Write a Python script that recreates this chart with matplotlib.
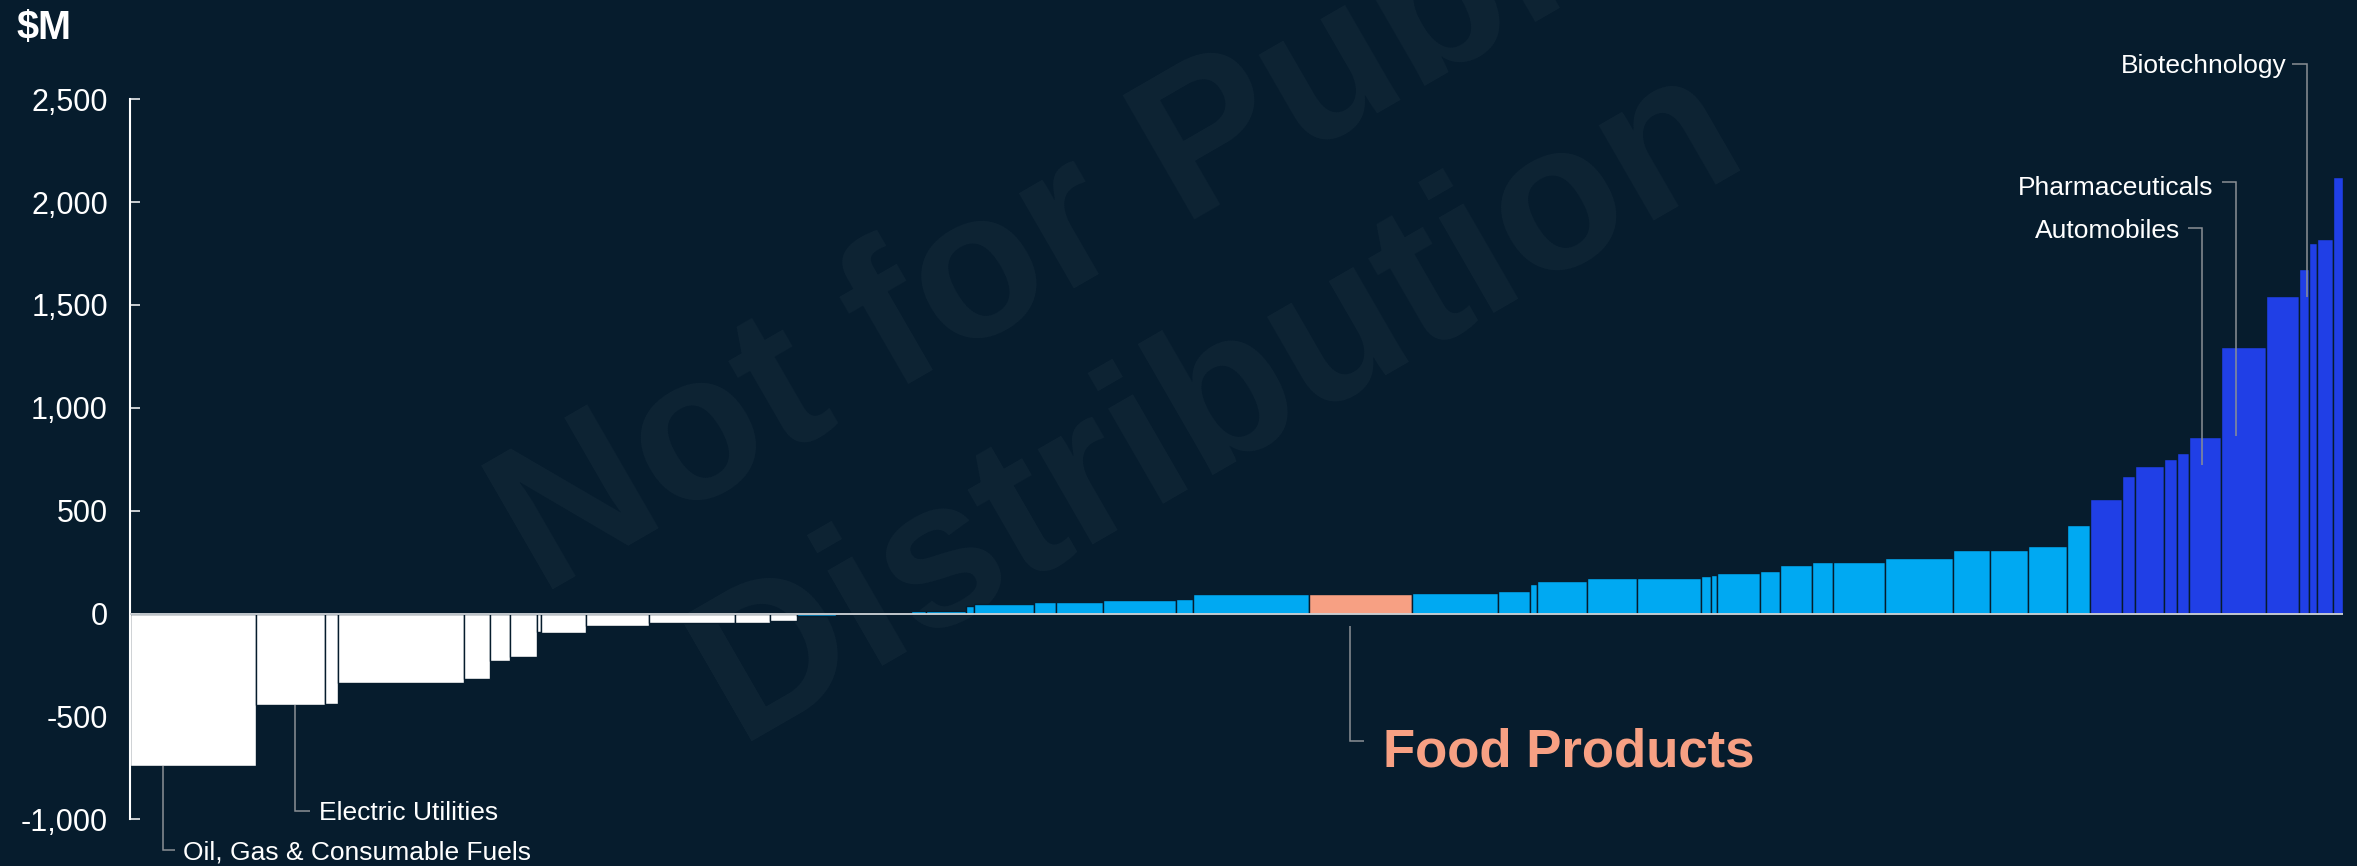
import matplotlib
matplotlib.use("Agg")
import matplotlib.pyplot as plt
import numpy as np

# Index weight of each sector (%) and its contribution ($M), sorted by contribution
weights = [5.68, 3.12, 0.62, 5.66, 1.19, 0.88, 1.25, 0.18, 2.01, 2.88,
           3.88, 1.58, 1.23, 1.76, 3.37, 0.66, 1.82, 0.36, 2.71, 1.01,
           2.13, 3.30, 0.75, 5.23, 4.65, 3.90, 1.46, 0.29, 2.29, 2.25,
           2.91, 0.45, 0.25, 1.96, 0.88, 1.46, 0.94, 2.35, 3.08, 1.69,
           1.68, 1.79, 1.04, 1.43, 0.57, 1.35, 0.56, 0.56, 1.42, 2.05,
           1.50, 0.45, 0.34, 0.74, 0.45]
contrib = [-741, -443, -438, -336, -316, -230, -210, -90, -95, -60,
           -47, -45, -34, -12, 3, 10, 10, 38, 48, 55,
           55, 65, 71, 94, 97, 100, 111, 143, 157, 173,
           175, 183, 189, 196, 207, 236, 251, 252, 272, 307,
           309, 330, 430, 558, 671, 715, 751, 782, 860, 1297,
           1544, 1676, 1800, 1819, 2123]

n_detractors = 13     # leading bars drawn in white
n_leaders = 12        # trailing bars drawn in dark blue
highlight = 24        # Food Products

sector_names = {
    0: "Oil, Gas & Consumable Fuels",
    1: "Electric Utilities",
    24: "Food Products",
    48: "Automobiles",
    49: "Pharmaceuticals",
    51: "Biotechnology",
}

y_ticks = [-1000, -500, 0, 500, 1000, 1500, 2000, 2500]

BG = "#061c2d"
WHITE = "#ffffff"
LIGHT = "#00a9f2"
DARK = "#203fe6"
SALMON = "#f7a083"
LEADER = "#8a8f95"
FONT = "Liberation Sans"

n = len(weights)
colors = []
for i in range(n):
    if i == highlight:
        colors.append(SALMON)
    elif i < n_detractors:
        colors.append(WHITE)
    elif i >= n - n_leaders:
        colors.append(DARK)
    else:
        colors.append(LIGHT)

lefts = np.concatenate([[0.0], np.cumsum(weights)[:-1]])

fig = plt.figure(figsize=(23.57, 8.66), dpi=100, facecolor=BG)
ax = fig.add_axes([130 / 2357, 0.05404, (2343 - 130) / 2357, 0.88533 - 0.05404])
ax.patch.set_visible(False)

# Watermark behind the chart
fig.text(0.4926, 0.648, "Not for Public\nDistribution", rotation=30,
         rotation_mode="anchor", ha="center", va="center", fontsize=150,
         fontweight="bold", family=FONT, color="white", alpha=0.035,
         linespacing=1.2, zorder=-5)

ax.bar(lefts, contrib, width=weights, align="edge", color=colors,
       edgecolor=BG, linewidth=1.0, zorder=2)
ax.axhline(0, color="#d0d4d8", lw=1.3, zorder=3)

ax.set_xlim(0, 100)
ax.set_ylim(-1000, 2500)
ax.set_yticks(y_ticks)
ax.set_yticklabels([f"{v:,}" for v in y_ticks], family=FONT, fontsize=22, color=WHITE)
ax.tick_params(axis="y", direction="in", length=7.5, width=1.1, color=WHITE, pad=16)
ax.set_xticks([])
for s in ("top", "right", "bottom"):
    ax.spines[s].set_visible(False)
ax.spines["left"].set_color(WHITE)
ax.spines["left"].set_linewidth(1.5)

fig.text(16.7 / 2357, 1 - 39 / 866, "$M", family=FONT, fontsize=28.5,
         fontweight="bold", color=WHITE, ha="left", va="baseline")


def leader(xs, ys):
    ax.plot(xs, ys, color=LEADER, lw=1.1, clip_on=False, zorder=4,
            solid_capstyle="butt", solid_joinstyle="miter")


def bar_x(i, frac):
    return lefts[i] + frac * weights[i]


# Bottom-left labels
x0 = bar_x(0, 0.26)
leader([x0, x0, 2.03], [contrib[0], -1150, -1150])
ax.text(2.40, -1196, sector_names[0], family=FONT, fontsize=19, color=WHITE,
        ha="left", va="baseline", clip_on=False)

x1 = bar_x(1, 0.57)
leader([x1, x1, 8.13], [contrib[1], -961, -961])
ax.text(8.54, -1005, sector_names[1], family=FONT, fontsize=19, color=WHITE,
        ha="left", va="baseline", clip_on=False)

# Highlighted sector
xf = bar_x(highlight, 0.40)
leader([xf, xf, 55.76], [-63, -621, -621])
ax.text(56.62, -743, sector_names[highlight], family=FONT, fontsize=38,
        fontweight="bold", color=SALMON, ha="left", va="baseline", clip_on=False)

# Top-right labels
xa = bar_x(48, 0.41)
leader([93.00, xa, xa], [1874, 1874, 723])
ax.text(92.64, 1825, sector_names[48], family=FONT, fontsize=19, color=WHITE,
        ha="right", va="baseline", clip_on=False)

xp = bar_x(49, 0.34)
leader([94.53, xp, xp], [2097, 2097, 864])
ax.text(94.13, 2034, sector_names[49], family=FONT, fontsize=19, color=WHITE,
        ha="right", va="baseline", clip_on=False)

xb = bar_x(51, 0.76)
leader([97.70, xb, xb], [2670, 2670, 1540])
ax.text(97.47, 2630, sector_names[51], family=FONT, fontsize=19, color=WHITE,
        ha="right", va="baseline", clip_on=False)

fig.savefig("out.png", dpi=100, facecolor=BG)
